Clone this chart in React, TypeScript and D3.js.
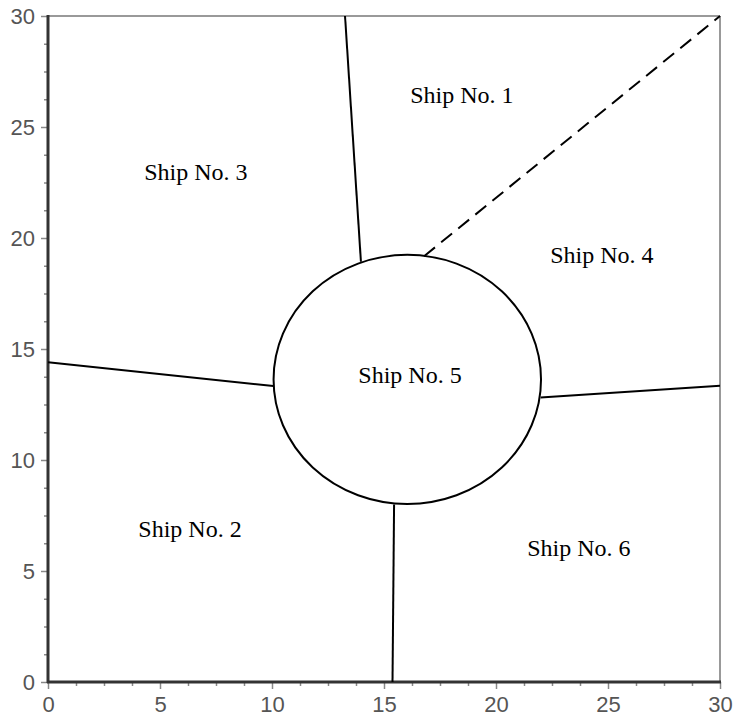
import { useEffect, useRef } from "react";
import * as d3 from "d3";

// layout of the six ships
const majorTicks = [0, 5, 10, 15, 20, 25, 30];

const ringCenter = [16.04, 13.63];
const ringRadius = [5.97, 5.61];

const northLine = [[13.26, 30], [13.97, 18.93]];
const westLine = [[0, 14.4], [10.06, 13.33]];
const eastLine = [[21.99, 12.82], [30, 13.35]];
const southLine = [[15.45, 8.0], [15.38, 0]];
const dashedLine = [[16.79, 19.18], [30, 30]];

const shipNames = ["Ship No. 1", "Ship No. 2", "Ship No. 3", "Ship No. 4", "Ship No. 5", "Ship No. 6"];
const shipX = [18.48, 6.34, 6.6, 24.73, 16.16, 23.7];
const shipY = [26.44, 6.89, 22.97, 19.23, 13.83, 6.04];

const App = () => {
    const svgRef = useRef<SVGSVGElement>(null);

    useEffect(() => {
        const svg = d3.select(svgRef.current);
        const left = 48, right = 720, top = 16, bottom = 682;

        const x = d3.scaleLinear().domain([0, 30]).range([left, right]);
        const y = d3.scaleLinear().domain([0, 30]).range([bottom, top]);

        const minorTicks = d3.range(0, 30, 1.25).filter(v => v % 5 !== 0);

        // frame: light top/right, dark left/bottom
        svg.append("line").attr("x1", left).attr("x2", right).attr("y1", top).attr("y2", top)
            .attr("stroke", "#999").attr("stroke-width", 2);
        svg.append("line").attr("x1", right).attr("x2", right).attr("y1", top).attr("y2", bottom)
            .attr("stroke", "#999").attr("stroke-width", 2);

        const styleAxis = (g: any) => {
            g.select(".domain").remove();
            g.selectAll(".tick line").attr("stroke", "#888").attr("stroke-width", 1.5);
            g.selectAll(".tick text").attr("fill", "#555")
                .attr("font-family", "'Liberation Sans Narrow', 'Liberation Sans', Arial, sans-serif")
                .attr("font-size", 22);
        };

        svg.append("g").attr("transform", `translate(0,${bottom})`)
            .call(d3.axisBottom(x).tickValues(minorTicks).tickSize(4).tickFormat(() => ""))
            .call(styleAxis);
        svg.append("g").attr("transform", `translate(${left},0)`)
            .call(d3.axisLeft(y).tickValues(minorTicks).tickSize(4).tickFormat(() => ""))
            .call(styleAxis);

        svg.append("g").attr("transform", `translate(0,${bottom})`)
            .call(d3.axisBottom(x).tickValues(majorTicks).tickSize(7).tickPadding(7).tickFormat(d3.format("d")))
            .call(styleAxis);
        svg.append("g").attr("transform", `translate(${left},0)`)
            .call(d3.axisLeft(y).tickValues(majorTicks).tickSize(7).tickPadding(6).tickFormat(d3.format("d")))
            .call(styleAxis);

        svg.append("line").attr("x1", left).attr("x2", left).attr("y1", top - 1).attr("y2", bottom + 1)
            .attr("stroke", "#333").attr("stroke-width", 3);
        svg.append("line").attr("x1", left - 1).attr("x2", right + 1).attr("y1", bottom).attr("y2", bottom)
            .attr("stroke", "#333").attr("stroke-width", 3);

        const line = d3.line<number[]>().x(d => x(d[0])).y(d => y(d[1]));
        const plot = svg.append("g");

        plot.selectAll("path.solid")
            .data([northLine, westLine, eastLine, southLine])
            .join("path")
            .attr("class", "solid")
            .attr("d", d => line(d))
            .attr("fill", "none")
            .attr("stroke", "#000")
            .attr("stroke-width", 2);

        plot.append("path")
            .attr("d", line(dashedLine))
            .attr("fill", "none")
            .attr("stroke", "#000")
            .attr("stroke-width", 2)
            .attr("stroke-dasharray", "14,8");

        plot.append("ellipse")
            .attr("cx", x(ringCenter[0]))
            .attr("cy", y(ringCenter[1]))
            .attr("rx", x(ringCenter[0] + ringRadius[0]) - x(ringCenter[0]))
            .attr("ry", y(ringCenter[1]) - y(ringCenter[1] + ringRadius[1]))
            .attr("fill", "none")
            .attr("stroke", "#000")
            .attr("stroke-width", 2);

        plot.selectAll("text.ship")
            .data(shipNames)
            .join("text")
            .attr("class", "ship")
            .attr("x", (d, i) => x(shipX[i]))
            .attr("y", (d, i) => y(shipY[i]))
            .attr("dy", "0.35em")
            .attr("text-anchor", "middle")
            .attr("font-family", "'Liberation Serif', 'Times New Roman', serif")
            .attr("font-size", 24)
            .attr("fill", "#000")
            .text(d => d);

        return () => {
            svg.selectAll("*").remove();
        };
    }, []);

    return (
        <svg ref={svgRef} width={736} height={722}
            style={{ position: "absolute", left: 0, top: 0, background: "#fff" }}></svg>
    );
};

export default App;
